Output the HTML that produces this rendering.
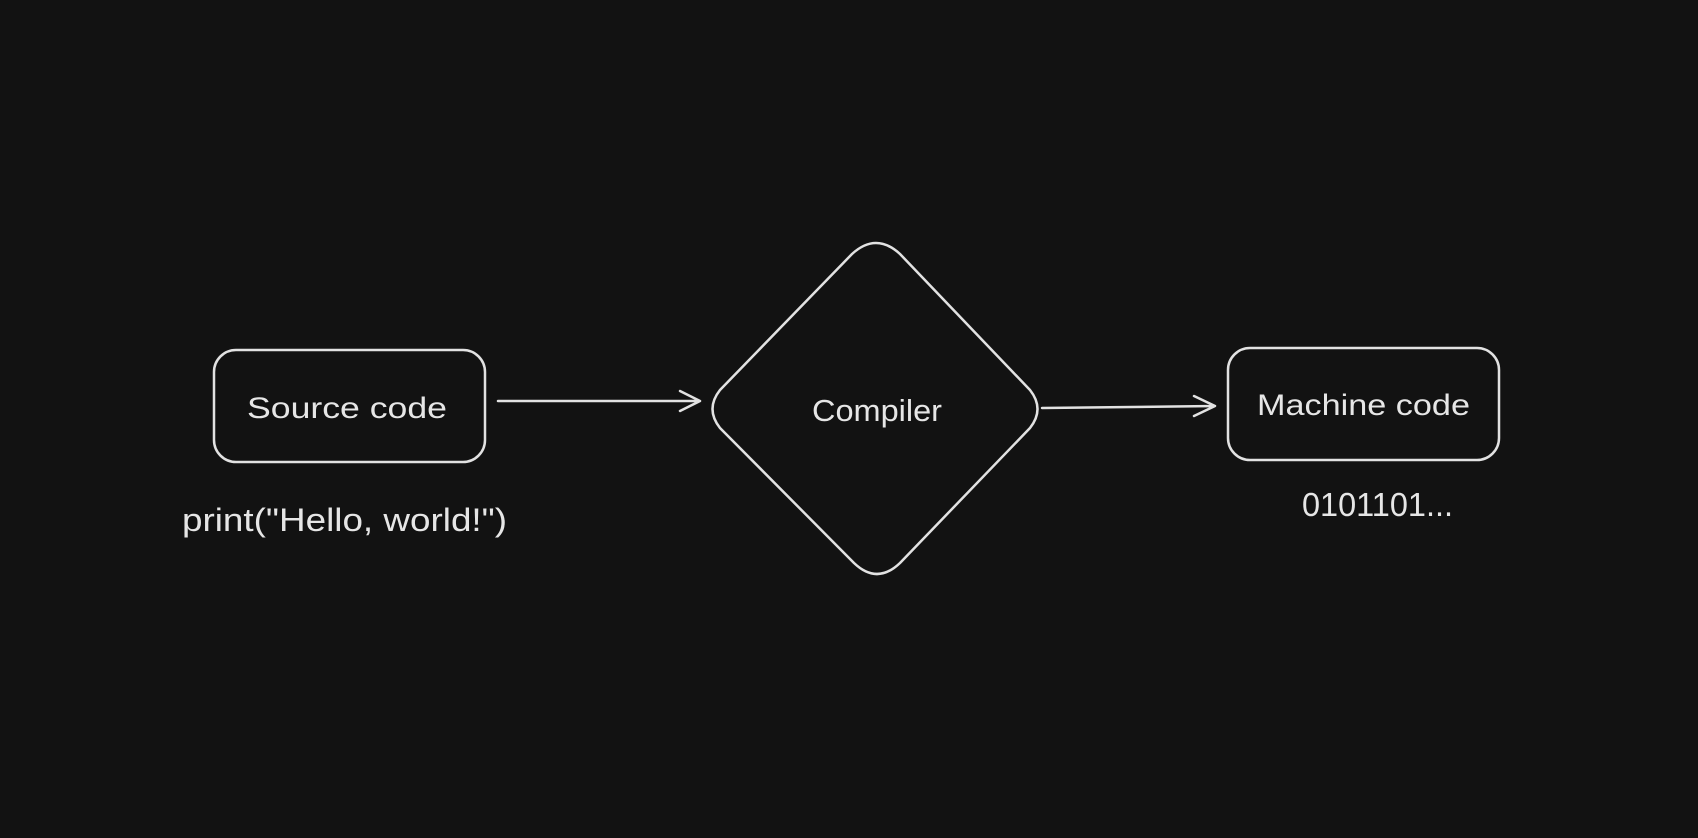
<!DOCTYPE html>
<html><head><meta charset="utf-8"><style>
html,body{margin:0;padding:0;background:#121212;}
svg{display:block}
text{font-family:"Liberation Sans",sans-serif;fill:#e6e6e6;}
</style></head><body>
<svg width="1698" height="838" viewBox="0 0 1698 838" xmlns="http://www.w3.org/2000/svg">
<rect width="1698" height="838" fill="#121212"/>
<g fill="none" stroke="#e2e2e2" stroke-width="2.5" stroke-linecap="round" stroke-linejoin="round">
<rect x="214" y="350" width="271" height="112" rx="22"/>
<rect x="1228" y="348" width="271" height="112" rx="22"/>
<path d="M852 254 Q876 232 900 254 L1030 390 Q1045 409 1030 428 L900 563 Q877 585 854 563 L720 428 Q705 409 720 390 Z"/>
<path d="M498 401 L700 401 M680 391 L700 401 L680 411"/>
<path d="M1042 408 L1215 406 M1194 396 L1215 406 L1194 416"/>
</g>
<text x="247" y="418" font-size="30" textLength="200" lengthAdjust="spacingAndGlyphs">Source code</text>
<text x="812" y="421" font-size="31" textLength="130" lengthAdjust="spacingAndGlyphs">Compiler</text>
<text x="1257" y="415" font-size="30" textLength="213" lengthAdjust="spacingAndGlyphs">Machine code</text>
<text x="182" y="531" font-size="32" textLength="325" lengthAdjust="spacingAndGlyphs">print("Hello, world!")</text>
<text x="1302" y="516" font-size="33" textLength="151" lengthAdjust="spacingAndGlyphs">0101101...</text>
</svg>
</body></html>
